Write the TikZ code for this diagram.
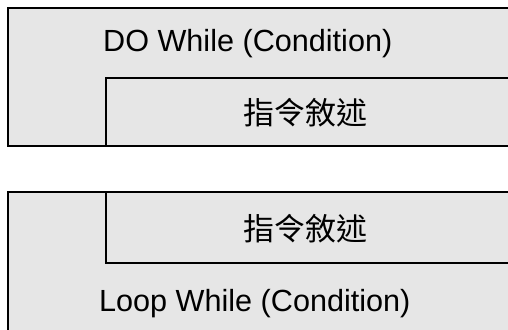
\documentclass[tikz,border=0pt]{standalone}
\usepackage{fontspec}
\setmainfont{Liberation Sans}
\newfontfamily\cjk{Noto Sans CJK TC}
\definecolor{boxfill}{HTML}{E6E6E6}
\tikzset{
  boxshape/.style={draw=black, fill=boxfill, line width=1.5pt, anchor=north west, inner sep=0pt, outer sep=0pt},
  lbl/.style={inner sep=0pt, font=\fontsize{30.6}{36}\selectfont, text=black},
  cjklbl/.style={inner sep=0pt, font=\fontsize{31}{36}\selectfont\cjk, text=black}
}
\begin{document}
\begin{tikzpicture}[x=1pt,y=-1pt]
\useasboundingbox (0,0) rectangle (508,329);
\fill[white] (0,0) rectangle (508,329);
\clip (0,0) rectangle (508,329);
% top block
\node[boxshape, minimum width=530pt, minimum height=138pt] (outerA) at (8,8) {};
\node[boxshape, minimum width=420pt, minimum height=68pt] (innerA) at (106,78) {};
\node[lbl, anchor=base west] (condA) at (103,52) {DO While (Condition)};
\node[cjklbl] (stmtA) at (305.5,113) {指令敘述};
% bottom block
\node[boxshape, minimum width=530pt, minimum height=160pt] (outerB) at (8,192) {};
\node[boxshape, minimum width=420pt, minimum height=71pt] (innerB) at (106,192) {};
\node[cjklbl] (stmtB) at (305.5,229) {指令敘述};
\node[lbl, anchor=base west] (condB) at (99,311) {Loop While (Condition)};
\end{tikzpicture}
\end{document}
